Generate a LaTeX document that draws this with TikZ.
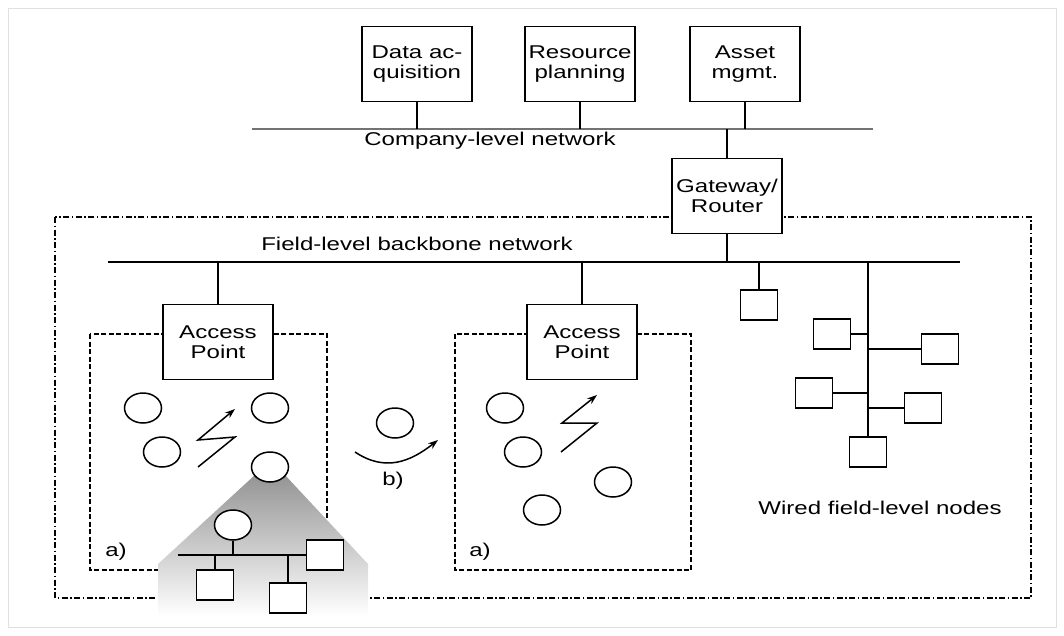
\documentclass[tikz,border=0pt]{standalone}
\usepackage{fontspec}
\newfontfamily\labelfont{Liberation Sans}[FakeStretch=1.3]
\usetikzlibrary{shapes.geometric,arrows.meta}

\begin{document}
\begin{tikzpicture}[x=1pt,y=-1pt,
  txt/.style={font=\labelfont\fontsize{18.5}{20.5}\selectfont,inner sep=1pt},
  box/.style={txt,draw,line width=1.5pt,fill=white,align=center,minimum width=110pt,minimum height=75pt},
  wbox/.style={draw,line width=1.5pt,fill=white,minimum width=37pt,minimum height=30pt,inner sep=0pt},
  wnode/.style={ellipse,draw,line width=1.5pt,fill=white,minimum width=37pt,minimum height=30pt,inner sep=0pt},
  bus/.style={line width=1.7pt},
  link/.style={line width=1.5pt},
  zone/.style={line width=1.5pt,dash pattern=on 5pt off 2.5pt},
  field/.style={line width=1.5pt,dash pattern=on 6pt off 2.5pt on 1.5pt off 2.5pt},
  radio/.style={line width=1.5pt,-{Stealth[length=10pt,width=7pt]}}]
\path[use as bounding box] (0,0) rectangle (1064,635);
\draw[black!12,line width=1pt] (8,8) rectangle (1056,627);
% company level
\coordinate (compL) at (252,129);
\coordinate (compR) at (873,129);
\draw[black!55,line width=1.7pt] (compL)--(compR);
\node[txt] (comptext) at (490,141) {Company-level network};
\node[box] (daq) at (417,64) {Data ac-\\quisition};
\node[box] (res) at (580,64) {Resource\\planning};
\node[box] (asset) at (745,64) {Asset\\mgmt.};
\foreach \n in {daq,res,asset} \draw[link] (\n.south)--(\n.south |- compL);
% field level
\draw[field] (55,217) rectangle (1031,598);
\draw[zone] (90,334) rectangle (327,570);
\draw[zone] (455,334) rectangle (691,570);
\coordinate (backL) at (108,262);
\coordinate (backR) at (960,262);
\draw[bus] (backL)--(backR);
\node[txt] (backtext) at (417,244) {Field-level backbone network};
\node[box] (gw) at (727,196) {Gateway/\\Router};
\draw[link] (gw.north |- compL)--(gw.north);
\draw[link] (gw.south)--(gw.south |- backL);
\node[box] (apL) at (218,342) {Access\\Point};
\node[box] (apR) at (582,342) {Access\\Point};
\foreach \n in {apL,apR} \draw[link] (\n.north |- backL)--(\n.north);
% left cell
\node[wnode] (wl1) at (143,408) {};
\node[wnode] (wl2) at (270,408) {};
\node[wnode] (wl3) at (162,452) {};
\draw[radio] (198,467)--(235,437)--(198,440)--(235,409);
\node[txt] (cellL) at (116,552) {a)};
% zoom on one wireless node
\shade[top color=black!42,middle color=black!40,bottom color=white] (256,474)--(284,474)--(368,564)--(368,616)--(158,616)--(158,564)--cycle;
\node[wnode] (wl4) at (270,467) {};
\node[wnode] (zn) at (233,525) {};
\coordinate (zbusL) at (178,555);
\node[wbox] (zb1) at (325,555) {};
\node[wbox] (zb2) at (215,585) {};
\node[wbox] (zb3) at (288,598) {};
\draw[link] (zbusL)--(zb1.west);
\draw[link] (zn.south)--(zn.south |- zbusL);
\foreach \n in {zb2,zb3} \draw[link] (\n.north |- zbusL)--(\n.north);
% roaming node
\node[wnode] (wm) at (395,423) {};
\coordinate (roamA) at (355,452);
\coordinate (roamB) at (438,440);
\draw[radio] (roamA) .. controls (385,472) and (410,462) .. (roamB);
\node[txt] (roam) at (393,481) {b)};
% right cell
\node[wnode] (wr1) at (505,408) {};
\node[wnode] (wr2) at (523,452) {};
\node[wnode] (wr3) at (613,482) {};
\node[wnode] (wr4) at (542,510) {};
\draw[radio] (561,452)--(597,423)--(562,423)--(597,395);
\node[txt] (cellR) at (480,552) {a)};
% wired nodes
\node[wbox] (fs) at (759,305) {};
\draw[link] (fs.north |- backL)--(fs.north);
\node[wbox] (f5) at (868,452) {};
\draw[link] (f5.north |- backL)--(f5.north);
\node[wbox] (f1) at (832,334) {};
\node[wbox] (f2) at (940,349) {};
\node[wbox] (f3) at (814,393) {};
\node[wbox] (f4) at (923,408) {};
\foreach \n in {f1,f3} \draw[link] (\n.east)--(\n.east -| f5.north);
\foreach \n in {f2,f4} \draw[link] (\n.west)--(\n.west -| f5.north);
\node[txt] (wired) at (880,508) {Wired field-level nodes};
\end{tikzpicture}
\end{document}
